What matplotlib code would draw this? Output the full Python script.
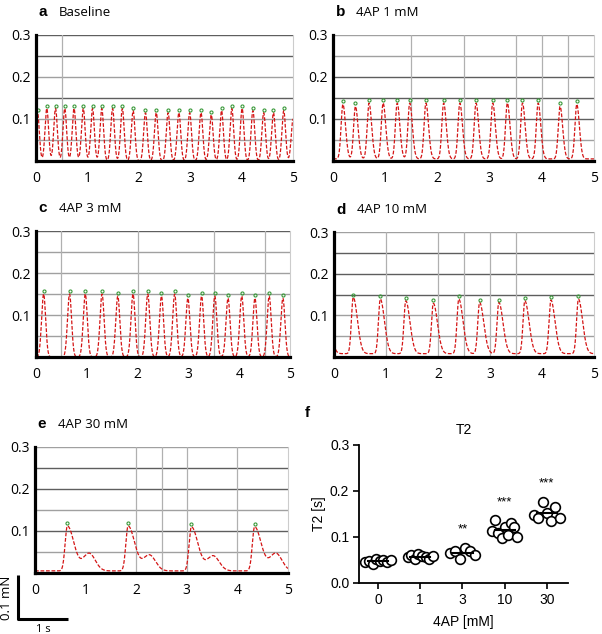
import numpy as np
import matplotlib.pyplot as plt

# peak times [s] and amplitudes [mN]
peaks_a = [0.03, 0.21, 0.38, 0.56, 0.74, 0.92, 1.10, 1.28, 1.49, 1.68, 1.89, 2.13, 2.34,
           2.57, 2.78, 2.99, 3.21, 3.41, 3.61, 3.81, 4.01, 4.22, 4.43, 4.62, 4.82, 5.0]
amps_a = [0.115, 0.125, 0.125, 0.125, 0.125, 0.125, 0.125, 0.125, 0.125, 0.125, 0.12, 0.115, 0.115,
          0.115, 0.115, 0.115, 0.115, 0.11, 0.12, 0.125, 0.125, 0.12, 0.115, 0.115, 0.12, 0.10]

peaks_b = [0.19, 0.43, 0.69, 0.96, 1.23, 1.47, 1.78, 2.12, 2.43, 2.74, 3.06, 3.34, 3.63, 3.93, 4.35, 4.67]
amps_b = [0.135, 0.13, 0.138, 0.138, 0.138, 0.138, 0.138, 0.138, 0.138, 0.138, 0.138, 0.138, 0.138,
          0.138, 0.13, 0.135]

peaks_c = [0.15, 0.66, 0.97, 1.30, 1.61, 1.91, 2.20, 2.47, 2.73, 2.99, 3.26, 3.52, 3.78, 4.05, 4.31, 4.59, 4.86]
amps_c = [0.15, 0.15, 0.15, 0.15, 0.145, 0.15, 0.15, 0.145, 0.15, 0.14, 0.145, 0.145, 0.14, 0.145,
          0.14, 0.145, 0.14]

peaks_d = [-0.15, 0.37, 0.89, 1.38, 1.91, 2.40, 2.80, 3.17, 3.67, 4.17, 4.70]
amps_d = [0.14, 0.143, 0.139, 0.135, 0.129, 0.139, 0.131, 0.131, 0.135, 0.137, 0.139]

peaks_e = [0.64, 1.84, 3.09, 4.34]
amps_e = [0.112, 0.112, 0.11, 0.11]
bumps_e = [1.07, 2.26, 3.52, 4.76]
bump_amps_e = [0.042, 0.038, 0.036, 0.042]

vgrid = {'a': [0.5], 'b': [1.5, 2.5, 3.5, 4, 4.5], 'c': [0.5, 2, 3.5, 4.5],
         'd': [1, 2, 2.5, 3, 3.5], 'e': [2, 2.5, 3, 4]}
dark_h = {'a': [0.3, 0.25, 0.15], 'b': [0.2, 0.15, 0.1], 'c': [0.3],
          'd': [0.25, 0.2, 0.15], 'e': [0.25, 0.2, 0.1]}
titles = {'a': 'Baseline', 'b': '4AP 1 mM', 'c': '4AP 3 mM', 'd': '4AP 10 mM', 'e': '4AP 30 mM'}

# panel f: T2 per 4AP concentration
groups = ['0', '1', '3', '10', '30']
t2_0 = [0.045, 0.048, 0.042, 0.052, 0.047, 0.051, 0.045, 0.051]
t2_1 = [0.057, 0.060, 0.052, 0.062, 0.058, 0.056, 0.053, 0.059]
t2_3 = [0.065, 0.070, 0.053, 0.077, 0.069, 0.061]
t2_10 = [0.114, 0.136, 0.108, 0.098, 0.121, 0.105, 0.130, 0.121, 0.101]
t2_30 = [0.148, 0.142, 0.177, 0.152, 0.134, 0.165, 0.141]
stars = ['', '', '**', '***', '***']

W, H = 602, 634
fig = plt.figure(figsize=(W / 100, H / 100), dpi=100)


def px_axes(l, t, r, b):
    return fig.add_axes([l / W, 1 - b / H, (r - l) / W, (b - t) / H])


def pulse(t, t0, amp, rise, decay):
    s = np.where(t < t0, rise, decay)
    return amp * np.exp(-0.5 * ((t - t0) / s) ** 2)


t = np.linspace(0, 5, 2500)


def trace_panel(ax, key, y, pk, pa):
    for v in [0.05, 0.1, 0.15, 0.2, 0.25, 0.3]:
        c = '#5e5e5e' if v in dark_h[key] else '#a0a0a0'
        ax.axhline(v, color=c, lw=1.0, zorder=1)
    for v in vgrid[key]:
        ax.axvline(v, color='#b0b0b0', lw=0.9, zorder=1)
    ax.plot(t, y, color='#d41515', lw=0.9, dashes=(3, 1.4), zorder=2)
    pk = np.array(pk)
    pa = np.array(pa)
    m = (pk >= 0) & (pk < 4.99)
    ax.plot(pk[m], pa[m] + 0.007, ls='none', marker='o', ms=2.2, mfc='none',
            mec='#3a9a3a', mew=0.8, zorder=3)
    ax.set_xlim(0, 5)
    ax.set_ylim(0, 0.3)
    ax.set_xticks([0, 1, 2, 3, 4, 5])
    ax.set_yticks([0.1, 0.2, 0.3])
    ax.set_yticklabels(['0.1', '0.2', '0.3'])
    ax.tick_params(length=0, labelsize=10, pad=4)
    ax.tick_params(axis='x', pad=7)
    for lab in ax.get_xticklabels() + ax.get_yticklabels():
        lab.set_fontfamily('Open Sans')
    ax.spines['top'].set_visible(False)
    ax.spines['right'].set_color('#cccccc')
    ax.spines['right'].set_linewidth(0.8)
    for s in ['left', 'bottom']:
        ax.spines[s].set_linewidth(2.3)
        ax.spines[s].set_zorder(5)


def panel_title(ax, letter, text):
    ax.text(0.01, 1.18, letter, transform=ax.transAxes, fontsize=11, fontweight='bold',
            family='Liberation Sans', va='center', ha='left')
    ax.text(0.09, 1.18, text, transform=ax.transAxes, fontsize=9.5,
            family='Open Sans', va='center', ha='left')


# a
ax = px_axes(36, 35, 293, 161)
y = sum(pulse(t, p, a, 0.035, 0.035) for p, a in zip(peaks_a, amps_a))
trace_panel(ax, 'a', y, peaks_a, amps_a)
panel_title(ax, 'a', titles['a'])

# b
ax = px_axes(333, 35, 594, 161)
y = 0.005 + sum(pulse(t, p, a - 0.005, 0.035, 0.05) for p, a in zip(peaks_b, amps_b))
trace_panel(ax, 'b', y, peaks_b, amps_b)
panel_title(ax, 'b', titles['b'])

# c
ax = px_axes(36, 231, 290, 357)
y = sum(pulse(t, p, a, 0.04, 0.04) for p, a in zip(peaks_c, amps_c))
trace_panel(ax, 'c', y, peaks_c, amps_c)
panel_title(ax, 'c', titles['c'])

# d
ax = px_axes(334, 232, 594, 357)
y = 0.008 + sum(pulse(t, p, a - 0.008, 0.035, 0.08) for p, a in zip(peaks_d, amps_d))
trace_panel(ax, 'd', y, peaks_d, amps_d)
panel_title(ax, 'd', titles['d'])

# e
ax = px_axes(35, 447, 288, 573)
y = 0.005 + sum(pulse(t, p, a - 0.005, 0.045, 0.13) for p, a in zip(peaks_e, amps_e))
y = y + sum(pulse(t, p, a, 0.12, 0.12) for p, a in zip(bumps_e, bump_amps_e))
trace_panel(ax, 'e', y, peaks_e, amps_e)
panel_title(ax, 'e', titles['e'])

# scale bar (0.1 mN x 1 s)
ax.plot([-0.34, -0.34, 0.66], [-0.005, -0.11, -0.11], color='black', lw=2.2,
        clip_on=False, solid_capstyle='butt')
ax.text(0.16, -0.141, '1 s', ha='center', va='baseline', fontsize=8, family='Open Sans')
ax.text(-0.56, -0.06, '0.1 mN', ha='center', va='center', rotation=90, fontsize=9.5,
        family='Open Sans')

# f
ax = px_axes(359, 445, 568, 583)
allvals = [t2_0, t2_1, t2_3, t2_10, t2_30]
for i, vals in enumerate(allvals):
    n = len(vals)
    xs = i + np.linspace(-0.3, 0.3, n)
    ax.plot(xs, vals, ls='none', marker='o', ms=7, mfc='white', mec='black', mew=1.2, zorder=3)
    ax.plot([i - 0.24, i + 0.24], [np.mean(vals)] * 2, color='black', lw=1.5, zorder=4)
    if stars[i]:
        ax.text(i, max(vals) + 0.04, stars[i], ha='center', va='center', fontsize=9.5,
                family='Liberation Sans')
ax.set_xlim(-0.45, 4.5)
ax.set_ylim(0, 0.3)
ax.set_xticks(range(len(groups)))
ax.set_xticklabels(groups)
ax.set_yticks([0.0, 0.1, 0.2, 0.3])
ax.set_yticklabels(['0.0', '0.1', '0.2', '0.3'])
ax.tick_params(labelsize=10, width=1.2, length=4, pad=3)
for lab in ax.get_xticklabels() + ax.get_yticklabels():
    lab.set_fontfamily('Liberation Sans')
ax.spines['top'].set_visible(False)
ax.spines['right'].set_visible(False)
for s in ['left', 'bottom']:
    ax.spines[s].set_linewidth(1.3)
ax.set_ylabel('T2 [s]', fontsize=10, family='Liberation Sans', labelpad=3)
ax.set_xlabel('4AP [mM]', fontsize=10, family='Liberation Sans', labelpad=6)
ax.set_title('T2', fontsize=10, family='Liberation Sans', pad=8, x=0.5)
fig.text(307 / W, 1 - 413 / H, 'f', fontsize=11, fontweight='bold', family='Liberation Sans',
         va='center', ha='center')

fig.savefig('out.png', dpi=100)
